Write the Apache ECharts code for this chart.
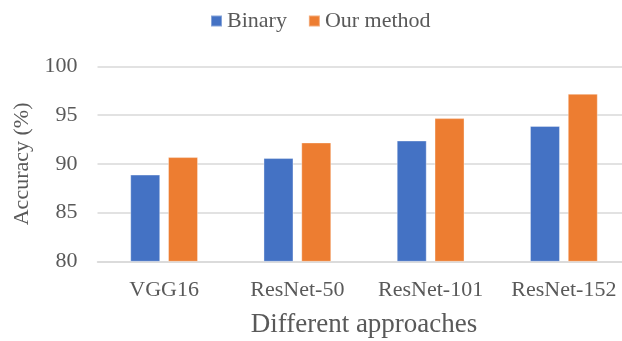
<!DOCTYPE html>
<html>
<head>
<meta charset="utf-8">
<script src="https://cdn.jsdelivr.net/npm/echarts@6/dist/echarts.min.js"></script>
<style>
  html, body { margin: 0; padding: 0; background: #fff; }
  #chart { width: 622px; height: 341px; }
</style>
</head>
<body>
<div id="chart"></div>
<script>
// Accuracy of each backbone, binary baseline vs. our method
const approaches = ['VGG16', 'ResNet-50', 'ResNet-101', 'ResNet-152'];
const binaryAcc = [88.9, 90.6, 92.4, 93.9];
const ourAcc = [90.7, 92.2, 94.7, 97.2];
const yTicks = [80, 85, 90, 95, 100];

const textColor = '#595959';
const fontFamily = '"Liberation Serif", "Times New Roman", serif';

const chart = echarts.init(document.getElementById('chart'), null, { renderer: 'canvas' });

chart.setOption({
  animation: false,
  textStyle: { fontFamily: fontFamily, color: textColor },
  legend: {
    left: 205,
    top: 5,
    itemWidth: 11,
    itemHeight: 11,
    itemGap: 21,
    icon: 'rect',
    textStyle: { fontFamily: fontFamily, fontSize: 22, color: textColor },
    data: ['Binary', 'Our method']
  },
  grid: {
    left: 97.5,
    top: 66.5,
    width: 533,
    bottom: 79.7,
    containLabel: false,
    outerBoundsMode: 'none'
  },
  xAxis: {
    type: 'category',
    data: approaches,
    name: 'Different approaches',
    nameLocation: 'middle',
    nameGap: 50,
    nameTextStyle: { fontFamily: fontFamily, fontSize: 27, color: textColor },
    axisLine: { show: true, lineStyle: { color: '#d9d9d9', width: 1.5 } },
    axisTick: { show: false },
    axisLabel: { interval: 0, fontFamily: fontFamily, fontSize: 22, color: textColor, margin: 18, hideOverlap: false }
  },
  yAxis: {
    type: 'value',
    min: yTicks[0],
    max: yTicks[yTicks.length - 1],
    interval: 5,
    name: 'Accuracy (%)',
    nameLocation: 'middle',
    nameGap: 54,
    nameRotate: 90,
    nameTextStyle: { fontFamily: fontFamily, fontSize: 22, color: textColor },
    axisLine: { show: false },
    axisTick: { show: false },
    axisLabel: { fontFamily: fontFamily, fontSize: 22, color: textColor, margin: 20 },
    splitLine: { lineStyle: { color: '#d9d9d9', width: 1.5 } }
  },
  series: [
    {
      name: 'Binary',
      type: 'bar',
      data: binaryAcc,
      barWidth: 30,
      barGap: '26%',
      itemStyle: { color: '#4472C4', borderColor: 'rgba(255,255,255,0.35)', borderWidth: 1 }
    },
    {
      name: 'Our method',
      type: 'bar',
      data: ourAcc,
      barWidth: 30,
      barGap: '26%',
      itemStyle: { color: '#ED7D31', borderColor: 'rgba(255,255,255,0.35)', borderWidth: 1 }
    }
  ]
});
</script>
</body>
</html>
